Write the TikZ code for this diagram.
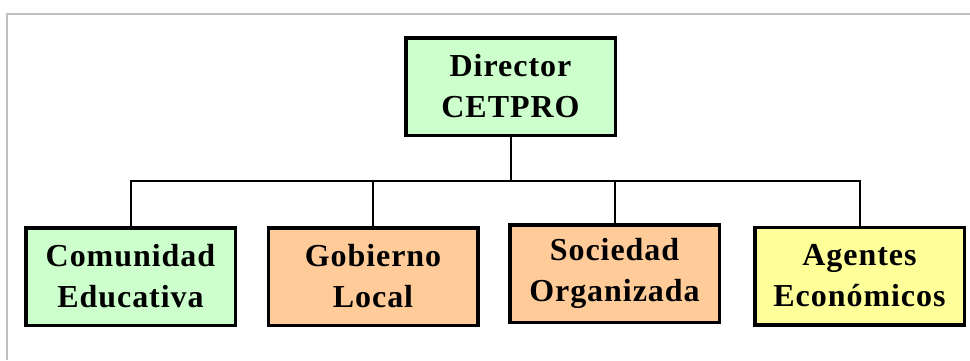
\documentclass[tikz,border=0pt]{standalone}
\usepackage{fontspec}
\setmainfont{Liberation Serif}[LetterSpace=3]
\definecolor{boxgreen}{HTML}{CCFFCC}
\definecolor{boxorange}{HTML}{FFCC99}
\definecolor{boxyellow}{HTML}{FFFF99}
\definecolor{framegray}{HTML}{C0C0C0}
\begin{document}
\begin{tikzpicture}[x=1pt,y=-1pt,
  orgbox/.style={draw=black, line width=3.5pt, rectangle, minimum width=209.5pt, minimum height=97.5pt,
    inner sep=0pt, align=center, font=\fontsize{32}{41}\selectfont\bfseries},
  conn/.style={draw=black, line width=2pt}]
\useasboundingbox (0,0) rectangle (970,360);
\fill[white] (0,0) rectangle (970,360);
\draw[framegray, line width=2pt] (7,360) -- (7,14) -- (970,14);
\node[orgbox, fill=boxgreen] (dir) at (510.5,86.5) {Director\\CETPRO};
\node[orgbox, fill=boxgreen] (c1) at (130.5,276.5) {Comunidad\\Educativa};
\node[orgbox, fill=boxorange] (c2) at (373,276.5) {Gobierno\\Local};
\node[orgbox, fill=boxorange] (c3) at (614.5,273.5) {Sociedad\\Organizada};
\node[orgbox, fill=boxyellow] (c4) at (859.5,276) {Agentes\\Económicos};
\coordinate (bus) at (510.5,181);
\draw[conn] (dir.south) -- (dir.south |- bus);
\draw[conn] (c1.north) -- (c1.north |- bus) -- (c4.north |- bus) -- (c4.north);
\draw[conn] (c2.north) -- (c2.north |- bus);
\draw[conn] (c3.north) -- (c3.north |- bus);
\end{tikzpicture}
\end{document}
